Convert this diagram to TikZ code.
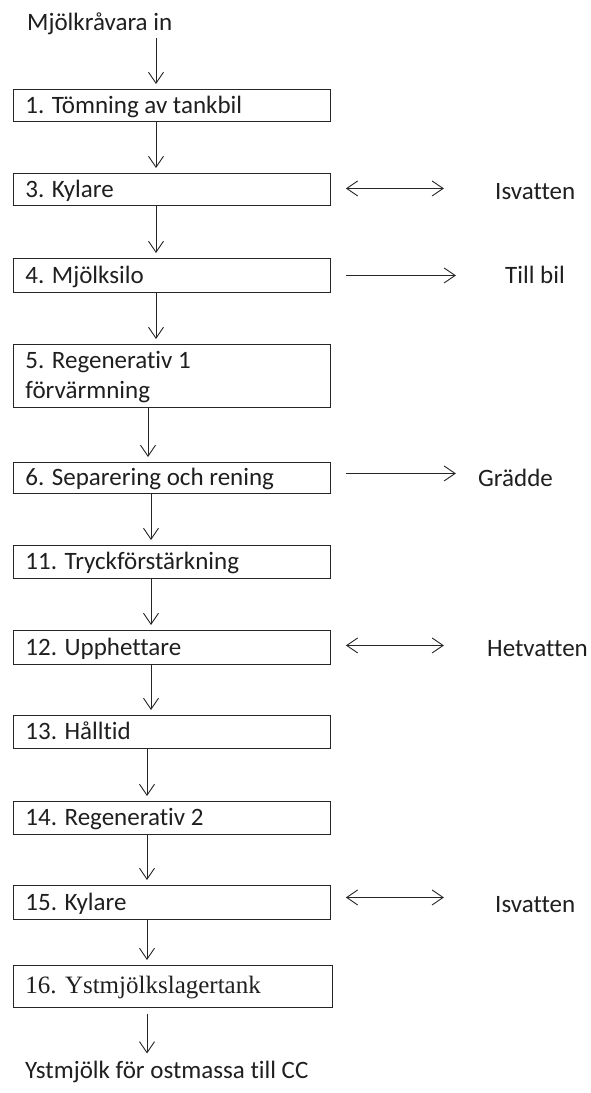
\documentclass[tikz,border=0pt]{standalone}
\usepackage{fontspec}
\setmainfont{Carlito}[Ligatures={NoCommon,TeX}]
\newfontfamily\timesf{Liberation Serif}
\usetikzlibrary{arrows.meta}
\tikzset{mybarb/.tip={Straight Barb[length=11pt,width=15pt,line width=0.9pt]}}
\begin{document}
\begin{tikzpicture}[x=1pt,y=-1pt,
  font=\fontsize{25}{30}\selectfont,
  every node/.style={text=black!88},
  box/.style={draw=black!85, line width=0.9pt, anchor=north west, text width=293pt,
    inner xsep=12pt, inner ysep=0pt, align=flush left, text height=24pt, text depth=9pt},
  lbl/.style={anchor=base west, inner sep=0pt},
  arr/.style={-mybarb, line width=0.9pt, draw=black!85, shorten >=5pt},
  side/.style={-mybarb, line width=0.9pt, draw=black!85},
  dbl/.style={mybarb-mybarb, line width=0.9pt, draw=black!85}
]
\useasboundingbox (0,0) rectangle (590,1093);
\fill[white] (0,0) rectangle (590,1093);

\coordinate (c1) at (156,0);
\coordinate (c2) at (148,0);
\coordinate (c3) at (151,0);
\coordinate (c4) at (147,0);

\node[lbl] (in) at (27,30) {Mjölkråvara in};

\node[box, text height=24pt, text depth=8pt] (b1) at (13,89) {1. Tömning av tankbil};
\node[box, text height=24pt, text depth=8pt] (b3) at (13,173) {3. Kylare};
\node[box, text height=25pt, text depth=9pt] (b4) at (13,258) {4. Mjölksilo};
\node[box, text height=24pt, text depth=39pt] (b5) at (13,344) {5. Regenerativ 1\\förvärmning};
\node[box, text height=23pt, text depth=8pt] (b6) at (13,462) {6. Separering och rening};
\node[box] (b11) at (13,545) {11. Tryckförstärkning};
\node[box, text height=25pt, text depth=9pt] (b12) at (13,630) {12. Upphettare};
\node[box] (b13) at (13,715) {13. Hålltid};
\node[box] (b14) at (13,801) {14. Regenerativ 2};
\node[box, text height=25pt, text depth=9pt] (b15) at (13,885) {15. Kylare};
\node[box, text width=295pt, text height=28pt, text depth=14pt, font=\timesf\fontsize{25}{30}\selectfont] (b16) at (13,965) {16. Ystmjölkslagertank};

\node[lbl] (out) at (25,1078) {Ystmjölk för ostmassa till CC};

\node[lbl] (is1) at (495,199) {Isvatten};
\node[lbl] (bil) at (505,283) {Till bil};
\node[lbl] (gr) at (478,486) {Grädde};
\node[lbl] (het) at (487,656) {Hetvatten};
\node[lbl] (is2) at (495,912) {Isvatten};

% main flow
\draw[arr, shorten <=4pt] (in.south -| c1) -- (b1.north -| c1);
\draw[arr] (b1.south -| c1) -- (b3.north -| c1);
\draw[arr] (b3.south -| c1) -- (b4.north -| c1);
\draw[arr] (b4.south -| c1) -- (b5.north -| c1);
\draw[arr] (b5.south -| c2) -- (b6.north -| c2);
\draw[arr] (b6.south -| c3) -- (b11.north -| c3);
\draw[arr] (b11.south -| c3) -- (b12.north -| c3);
\draw[arr] (b12.south -| c3) -- (b13.north -| c3);
\draw[arr] (b13.south -| c4) -- (b14.north -| c4);
\draw[arr] (b14.south -| c4) -- (b15.north -| c4);
\draw[arr] (b15.south -| c4) -- (b16.north -| c4);
\draw[arr, shorten <=6pt, shorten >=7pt] (b16.south -| c4) -- (out.north -| c4);

% side streams
\draw[dbl] ([xshift=15pt,yshift=1pt]b3.east) -- ++(98,0);
\draw[side] ([xshift=15pt]b4.east) -- ++(110,0);
\draw[side] ([xshift=15pt,yshift=4.5pt]b6.east) -- ++(110,0);
\draw[dbl] ([xshift=15pt,yshift=2pt]b12.east) -- ++(98,0);
\draw[dbl] ([xshift=15pt,yshift=5pt]b15.east) -- ++(98,0);
\end{tikzpicture}
\end{document}
